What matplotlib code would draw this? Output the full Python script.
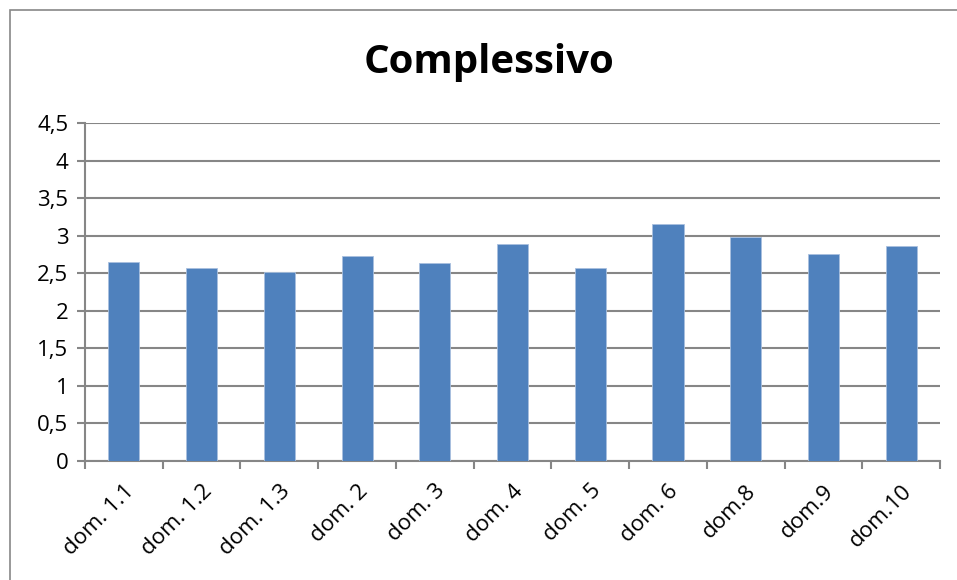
import matplotlib
matplotlib.use("Agg")
import matplotlib.pyplot as plt
from matplotlib.ticker import FuncFormatter, MultipleLocator
from matplotlib.patches import Rectangle

categories = ["dom. 1.1", "dom. 1.2", "dom. 1.3", "dom. 2", "dom. 3", "dom. 4",
              "dom. 5", "dom. 6", "dom.8", "dom.9", "dom.10"]
values = [2.65, 2.57, 2.51, 2.73, 2.63, 2.89, 2.57, 3.16, 2.98, 2.75, 2.86]

BAR = "#4F81BD"
GRID = "#868686"

plt.rcParams["font.family"] = ["Open Sans", "DejaVu Sans"]

fig = plt.figure(figsize=(9.57, 5.8), dpi=100)
ax = fig.add_axes([85 / 957, 1 - 461 / 580, (940 - 85) / 957, (461 - 123) / 580])

x = list(range(len(categories)))
ax.bar(x, values, width=0.4, color=BAR, edgecolor="#a9c0df", linewidth=0.6, zorder=3)

ax.set_ylim(0, 4.5)
ax.set_xlim(-0.5, len(categories) - 0.5)
ax.yaxis.set_major_locator(MultipleLocator(0.5))
ax.yaxis.set_major_formatter(FuncFormatter(lambda v, p: f"{v:g}".replace(".", ",")))
ax.grid(axis="y", color=GRID, linewidth=1.5, zorder=1)

ax.set_xticks([i - 0.5 for i in range(len(categories) + 1)])
ax.set_xticklabels([])
ax.set_xticks(x, minor=True)
ax.set_xticklabels(categories, minor=True, rotation=45, ha="right",
                   rotation_mode="anchor", fontsize=16)
ax.tick_params(axis="x", which="minor", length=0, pad=14)
ax.tick_params(axis="x", which="major", length=6, width=1.5, color=GRID)
ax.tick_params(axis="y", length=6, width=1.5, color=GRID, labelsize=16, pad=6)

for s in ["top", "right"]:
    ax.spines[s].set_visible(False)
for s in ["left", "bottom"]:
    ax.spines[s].set_color(GRID)
    ax.spines[s].set_linewidth(1.5)

fig.text(0.511, 1 - 62 / 580, "Complessivo", ha="center", va="center",
         fontsize=29, fontweight="bold")

fig.patches.append(Rectangle((10 / 957, -0.05), 1.2, 1 - 10 / 580 + 0.05,
                             transform=fig.transFigure, fill=False,
                             edgecolor="#888888", linewidth=1.2))

fig.savefig("out.png", dpi=100)
plt.close(fig)
